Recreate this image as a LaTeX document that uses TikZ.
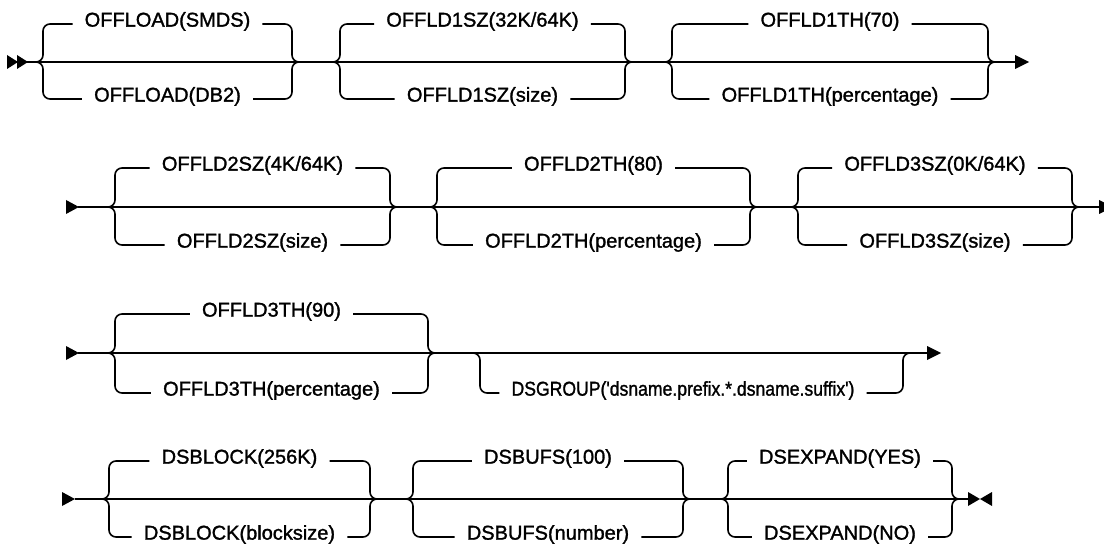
\documentclass[tikz,border=0pt]{standalone}
\usepackage{fontspec}
\setmainfont{Liberation Sans}
\newfontfamily\railfont{Liberation Sans}[FakeBold=1.4]
\tikzset{
  rail/.style={line width=1.6pt, rounded corners=7pt},
  lbl/.style={inner xsep=12pt, inner ysep=0pt, anchor=mid, font=\railfont\fontsize{20}{20}\selectfont, text=black},
  tip/.style={fill=black}
}
% #1 name, #2 L, #3 R, #4 ym, #5 yt, #6 yb, #7 top text, #8 bottom text
\newcommand{\rrchoice}[8]{%
  \node[lbl] (#1t) at ({(#2+#3)/2},#5) {#7};
  \node[lbl] (#1b) at ({(#2+#3)/2},#6) {#8};
  \draw[rail] (#2-8,#4) -| (#2,#5) -- (#1t.mid west);
  \draw[rail] (#2-8,#4) -| (#2,#6) -- (#1b.mid west);
  \draw[rail] (#1t.mid east) -| (#3,#4) -- (#3+8,#4);
  \draw[rail] (#1b.mid east) -| (#3,#4) -- (#3+8,#4);
}
% #1 name, #2 L, #3 R, #4 ym, #5 yb, #6 text x, #7 text
\newcommand{\rroptional}[7]{%
  \node[lbl] (#1b) at (#6,#5) {#7};
  \draw[rail] (#2-8,#4) -| (#2,#5) -- (#1b.mid west);
  \draw[rail] (#1b.mid east) -| (#3,#4) -- (#3+8,#4);
}
\begin{document}
\begin{tikzpicture}[x=1pt,y=-1pt]
\useasboundingbox (0,0) rectangle (1104,548);
% ---------- row 1
\fill[tip] (7,55) -- (18,62) -- (7,69) -- cycle;
\fill[tip] (17,55) -- (28,62) -- (17,69) -- cycle;
\coordinate (r1s) at (27,62);
\coordinate (r1e) at (1016,62);
\draw[line width=1.6pt] (r1s) -- (r1e);
\fill[tip] (1015,55) -- (1029,62) -- (1015,69) -- cycle;
\rrchoice{a}{43}{292}{62}{24}{99}{OFFLOAD(SMDS)}{OFFLOAD(DB2)}
\rrchoice{b}{340}{625}{62}{24}{99}{OFFLD1SZ(32K/64K)}{OFFLD1SZ(size)}
\rrchoice{c}{672}{988}{62}{24}{99}{OFFLD1TH(70)}{OFFLD1TH(percentage)}
% ---------- row 2
\fill[tip] (66,200) -- (79,207) -- (66,214) -- cycle;
\coordinate (r2s) at (78,207);
\coordinate (r2e) at (1100,207);
\draw[line width=1.6pt] (r2s) -- (r2e);
\fill[tip] (1099,200) -- (1113,207) -- (1099,214) -- cycle;
\rrchoice{d}{115}{390}{207}{168}{245}{OFFLD2SZ(4K/64K)}{OFFLD2SZ(size)}
\rrchoice{e}{437}{750}{207}{168}{245}{OFFLD2TH(80)}{OFFLD2TH(percentage)}
\rrchoice{f}{798}{1072}{207}{168}{245}{OFFLD3SZ(0K/64K)}{OFFLD3SZ(size)}
% ---------- row 3
\fill[tip] (66,346) -- (79,353) -- (66,360) -- cycle;
\coordinate (r3s) at (78,353);
\coordinate (r3e) at (928,353);
\draw[line width=1.6pt] (r3s) -- (r3e);
\fill[tip] (927,346) -- (941,353) -- (927,360) -- cycle;
\rrchoice{g}{115}{428}{353}{314}{393}{OFFLD3TH(90)}{OFFLD3TH(percentage)}
\rroptional{h}{480}{903}{353}{393}{683}{\scalebox{0.88}[1]{DSGROUP('dsname.prefix.*.dsname.suffix')}}
% ---------- row 4
\fill[tip] (62,492) -- (75,499) -- (62,506) -- cycle;
\coordinate (r4s) at (75,499);
\coordinate (r4e) at (969,499);
\draw[line width=1.6pt] (r4s) -- (r4e);
\fill[tip] (968,492) -- (980,499) -- (968,506) -- cycle;
\fill[tip] (992,492) -- (980,499) -- (992,506) -- cycle;
\rrchoice{i}{109}{370}{499}{461}{537}{DSBLOCK(256K)}{DSBLOCK(blocksize)}
\rrchoice{j}{413}{683}{499}{461}{537}{DSBUFS(100)}{DSBUFS(number)}
\rrchoice{k}{728}{952}{499}{461}{537}{DSEXPAND(YES)}{DSEXPAND(NO)}
\end{tikzpicture}
\end{document}
